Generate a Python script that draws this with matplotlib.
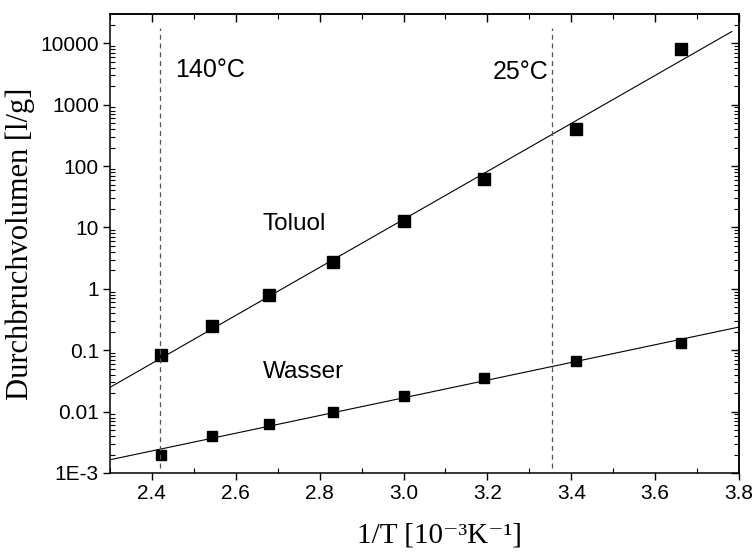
import numpy as np
import matplotlib
matplotlib.use("Agg")
import matplotlib.pyplot as plt
from matplotlib.ticker import FixedLocator, FixedFormatter, MultipleLocator, LogLocator, NullFormatter

# Reciprocal temperature in 1e-3 / K (0 .. 140 degC in 20 K steps)
inv_T = [2.421, 2.544, 2.680, 2.832, 3.002, 3.193, 3.411, 3.661]

# Breakthrough volume in l/g
toluol = [0.0836, 0.248, 0.79, 2.73, 12.7, 61.0, 401.0, 8040.0]
wasser = [0.00196, 0.0040, 0.0063, 0.0098, 0.018, 0.035, 0.067, 0.131]

# Reference temperatures marked by vertical lines
ref_inv_T = [1000 / 413.15, 1000 / 298.15]
ref_labels = ["140°C", "25°C"]

ytick_vals = [1e-3, 1e-2, 1e-1, 1, 10, 100, 1000, 10000]
ytick_labels = ["1E-3", "0.01", "0.1", "1", "10", "100", "1000", "10000"]
xtick_vals = [2.4, 2.6, 2.8, 3.0, 3.2, 3.4, 3.6, 3.8]
xtick_labels = ["2.4", "2.6", "2.8", "3.0", "3.2", "3.4", "3.6", "3.8"]

plt.rcParams["font.family"] = ["Liberation Sans", "DejaVu Sans"]

fig = plt.figure(figsize=(7.55, 5.53), dpi=100)
ax = fig.add_axes([110 / 755, 1 - 473 / 553, 629 / 755, 459 / 553])

ax.set_yscale("log")
ax.set_xlim(2.3, 3.8)
ax.set_ylim(1e-3, 10 ** 4.477)

# Linear fits of log10(V) against 1/T
def fit_line(x, y, x0, x1):
    k, d = np.polyfit(x, np.log10(y), 1)
    xs = np.linspace(x0, x1, 50)
    return xs, 10 ** (k * xs + d)

xs, ys = fit_line(inv_T, toluol, 2.3, 3.783)
ax.plot(xs, ys, color="black", lw=0.8)
xs, ys = fit_line(inv_T, wasser, 2.3, 3.8)
ax.plot(xs, ys, color="black", lw=0.8)

ax.plot(inv_T, toluol, ls="none", marker="s", ms=8, color="black")
ax.plot(inv_T, wasser, ls="none", marker="s", ms=7.5, color="black")

for xv in ref_inv_T:
    ax.axvline(xv, ymin=0.01, ymax=0.969, color="#555555", lw=0.9, ls=(0, (4, 3)))

ax.text(2.455, 10 ** 3.45, ref_labels[0], fontsize=18, va="baseline", ha="left")
ax.text(3.345, 10 ** 3.42, ref_labels[1], fontsize=18, va="baseline", ha="right")
ax.text(2.6625, 10 ** 0.958, "Toluol", fontsize=17.5, va="baseline", ha="left")
ax.text(2.6656, 10 ** -1.453, "Wasser", fontsize=17.5, va="baseline", ha="left")

# Bottom / left axes: major ticks outward, minor ticks inward
ax.xaxis.set_major_locator(FixedLocator(xtick_vals))
ax.xaxis.set_major_formatter(FixedFormatter(xtick_labels))
ax.xaxis.set_minor_locator(MultipleLocator(0.1))
ax.yaxis.set_major_locator(FixedLocator(ytick_vals))
ax.yaxis.set_major_formatter(FixedFormatter(ytick_labels))
ax.yaxis.set_minor_locator(LogLocator(base=10, subs=np.arange(2, 10), numticks=20))
ax.yaxis.set_minor_formatter(NullFormatter())
ax.tick_params(which="major", direction="out", length=5, width=1.0, labelsize=15, pad=3)
ax.tick_params(which="minor", direction="in", length=3.5, width=0.8)

for sp in ax.spines.values():
    sp.set_linewidth(1.1)

# Top / right axes: all ticks inward, no labels
top = ax.secondary_xaxis("top")
top.xaxis.set_major_locator(FixedLocator(xtick_vals))
top.xaxis.set_minor_locator(MultipleLocator(0.1))
top.tick_params(which="major", direction="in", length=6, width=1.0, labeltop=False)
top.tick_params(which="minor", direction="in", length=3.5, width=0.8)
top.spines["top"].set_linewidth(1.1)

right = ax.secondary_yaxis("right")
right.yaxis.set_major_locator(FixedLocator(ytick_vals))
right.yaxis.set_minor_locator(LogLocator(base=10, subs=np.arange(2, 10), numticks=20))
right.yaxis.set_minor_formatter(NullFormatter())
right.tick_params(which="major", direction="in", length=6, width=1.0, labelright=False)
right.tick_params(which="minor", direction="in", length=3.5, width=0.8)
right.spines["right"].set_linewidth(1.1)

serif = ["Liberation Serif", "DejaVu Serif"]
ax.set_xlabel("1/T [10⁻³K⁻¹]", family=serif, fontsize=21)
ax.xaxis.set_label_coords(0.523, -0.108)
ax.set_ylabel("Durchbruchvolumen [l/g]", family=serif, fontsize=22, labelpad=4)

fig.savefig("out.png", dpi=100)
